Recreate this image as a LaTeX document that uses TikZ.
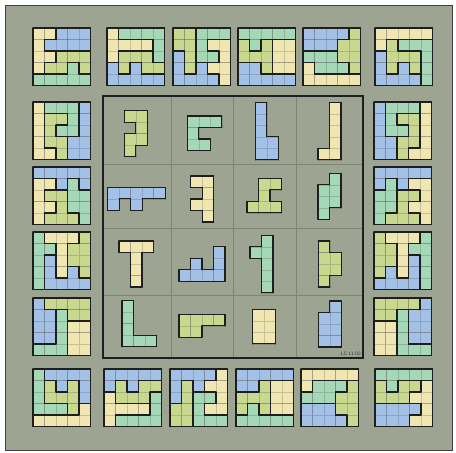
\documentclass[tikz,border=0pt]{standalone}
\definecolor{bgc}{HTML}{9DA491}
\definecolor{pzY}{HTML}{EFE6B2}
\definecolor{pzG}{HTML}{A5D8B6}
\definecolor{pzO}{HTML}{C8D88E}
\definecolor{pzB}{HTML}{A3C1E6}
\definecolor{framec}{HTML}{1E1E1E}
\definecolor{gridc}{HTML}{7E8574}
\newcount\pzidc
\newcount\pzcol
\let\pzend\relax
\def\pzs{11.5}
\def\pzparseloop#1{\ifx#1\pzend\else\global\advance\pzcol by 1 \expandafter\xdef\csname pzc-\pzid-\pzr-\the\pzcol\endcsname{#1}\expandafter\pzparseloop\fi}
\def\pzget#1#2{\ifcsname pzc-\pzid-#1-#2\endcsname\csname pzc-\pzid-#1-#2\endcsname\else-\fi}
\tikzset{
  cellbox/.style={draw=black!70,draw opacity=0.25,line width=0.45pt},
  pzthick/.style={draw=framec,line width=1.1pt,line cap=round},
  framebox/.style={draw=framec,line width=2pt},
  gridline/.style={draw=gridc,line width=0.7pt},
}
\newcommand\pz[3]{%
  \global\advance\pzidc by 1
  \edef\pzid{\the\pzidc}%
  \foreach \rowstr [count=\ri] in {#3}{%
    \global\pzcol=0
    \edef\pzr{\ri}%
    \expandafter\pzparseloop\rowstr\pzend
    \xdef\pznr{\ri}\xdef\pznc{\the\pzcol}}%
  \foreach \ii in {1,...,\pznr}{\foreach \jj in {1,...,\pznc}{%
    \edef\pza{\pzget{\ii}{\jj}}%
    \if-\pza\else
      \path[fill=pz\pza,cellbox] ({#1+(\jj-1)*\pzs},{#2+(\ii-1)*\pzs}) rectangle ++(\pzs,\pzs);
    \fi}}%
  \foreach \ii in {1,...,\pznr}{\foreach \jj in {0,...,\pznc}{%
    \pgfmathtruncatemacro\kk{\jj+1}%
    \edef\pza{\pzget{\ii}{\jj}}\edef\pzb{\pzget{\ii}{\kk}}%
    \ifx\pza\pzb\else
      \draw[pzthick] ({#1+\jj*\pzs},{#2+(\ii-1)*\pzs}) -- ++(0,\pzs);
    \fi}}%
  \foreach \ii in {0,...,\pznr}{\foreach \jj in {1,...,\pznc}{%
    \pgfmathtruncatemacro\kk{\ii+1}%
    \edef\pza{\pzget{\ii}{\jj}}\edef\pzb{\pzget{\kk}{\jj}}%
    \ifx\pza\pzb\else
      \draw[pzthick] ({#1+(\jj-1)*\pzs},{#2+\ii*\pzs}) -- ++(\pzs,0);
    \fi}}%
}
\begin{document}
\begin{tikzpicture}[x=1pt,y=-1pt]
\useasboundingbox (0,0) rectangle (456,453);
\fill[white] (0,0) rectangle (456,453);
\draw[fill=bgc,draw=black!75,line width=0.8pt] (5,5) rectangle (452,450);
% top row
\pz{33}{28}{YYBBB,YBBBB,YYOOO,YOOGO,GGGGG}
\pz{107}{28}{YGGGG,YYYYG,YOOOG,BOBOO,BBBBB}
\pz{173}{28}{OOGGG,OOGYY,BOGGY,BOBYY,BBBBY}
\pz{238}{28}{GGGGG,OGOYY,OOOYY,BBOYY,BBBBB}
\pz{303}{28}{BBBBO,BBBOO,GGGOO,YGGGO,YYYYY}
\pz{375}{28}{YYYYY,YOGGG,BOOOG,BOBOG,BBBBG}
% left column
\pz{33}{102}{YGGGB,YOOGB,YOGGB,YOOBB,YYOBB}
\pz{33}{167}{BBBBB,YYBGB,YOOGG,YYOGG,YOOOG}
\pz{33}{232}{GYYYO,GGYOO,GBYOO,GBYBO,GBBBB}
\pz{33}{298}{BOOOO,BBGOO,BBGYY,BBGYY,GGGYY}
% right column
\pz{374}{102}{BGGGY,BGOOY,BGGOY,BBOOY,BBOYY}
\pz{374}{167}{BBBBB,BGBYY,GGOOY,GGOYY,GOOOY}
\pz{374}{232}{OYYYG,OOYGG,OOYBG,OBYBG,BBBBG}
\pz{374}{298}{OOOOB,OOGBB,YYGBB,YYGBB,YYGGG}
% bottom row
\pz{33}{369}{GBBBB,GOBOB,GOOOB,GGGOY,YYYYY}
\pz{104}{369}{BBBBB,BOBOO,YOOOG,YYYYG,YGGGG}
\pz{170}{369}{BBBBY,BOBYY,BOGGY,OOGYY,OOGGG}
\pz{236}{369}{BBBBB,BBOYY,OOOYY,OGOYY,GGGGG}
\pz{301}{369}{YYYYY,YGGGO,GGGOO,BBBOO,BBBBO}
\pz{375}{369}{GGGGG,OGOOY,OOOYY,BBBBY,BBBYY}
% central frame grid
\coordinate (fa) at (102.5,96);
\coordinate (fb) at (363,358);
\draw[gridline] (171,96) -- (171,358) (233,96) -- (233,358) (296,96) -- (296,358);
\draw[gridline] (102.5,164) -- (363,164) (102.5,228.5) -- (363,228.5) (102.5,295) -- (363,295);
\draw[framebox] (fa) rectangle (fb);
% central pieces
\pz{124.3}{110.7}{OO,-O,OO,O-}
\pz{187.3}{116}{GGG,G--,GG-}
\pz{255.3}{102.3}{B-,B-,B-,BB,BB}
\pz{318}{102.3}{-Y,-Y,-Y,-Y,YY}
\pz{107.7}{187.3}{BBBBB,B-B--}
\pz{190.7}{176}{YY,-Y,YY,-Y}
\pz{247}{178.3}{-OO,-O-,OOO}
\pz{318}{173.3}{-G,GG,GG,G-}
\pz{119}{241}{YYY,-Y-,-Y-,-Y-}
\pz{179}{246.7}{---B,-B-B,BBBB}
\pz{250}{235.3}{-G,GG,-G,-G,-G}
\pz{318.3}{241}{O-,OO,OO,O-}
\pz{122}{300.7}{G--,G--,G--,GGG}
\pz{179}{314.3}{OOOO,OO--}
\pz{252.7}{309.3}{YY,YY,YY}
\pz{318.3}{301}{-B,BB,BB,BB}
\node[anchor=south east,inner sep=0pt,font=\sffamily\fontsize{5}{6}\selectfont,text=black!80] (lbl) at (361,355.5) {LS\,\,11-02};
\end{tikzpicture}
\end{document}
